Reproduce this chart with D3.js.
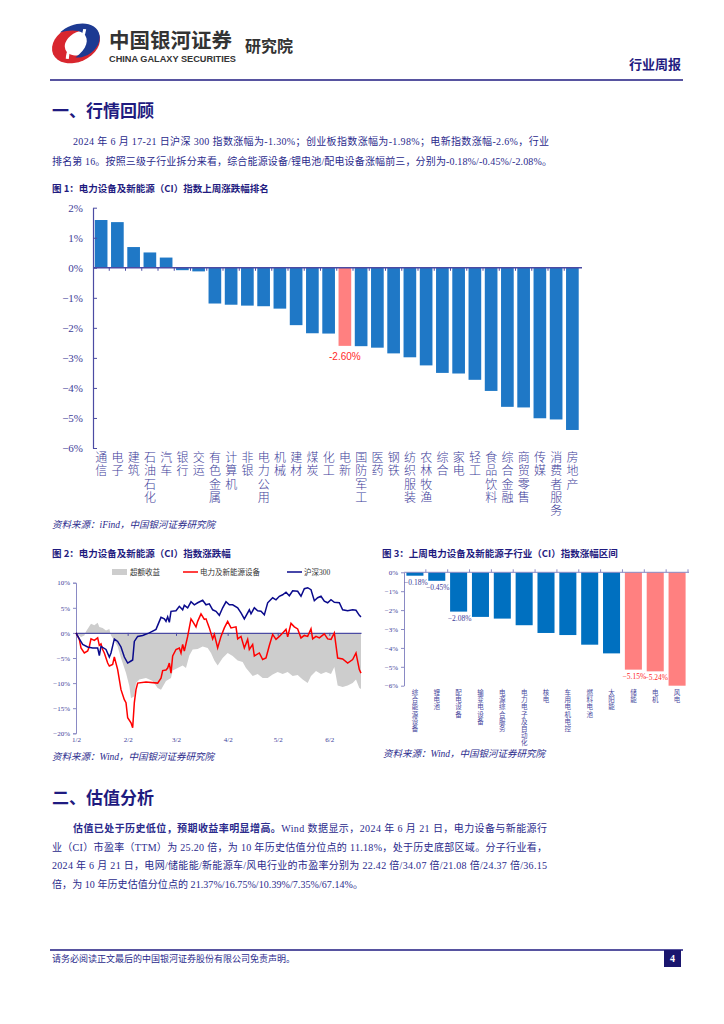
<!DOCTYPE html>
<html><head><meta charset="utf-8">
<script src="https://cdn.jsdelivr.net/npm/d3@7"></script>
<style>
body{margin:0;background:#fff}
svg{display:block}
</style>
</head><body>
<svg id="page" width="724" height="1024" font-family="Liberation Serif, Noto Sans CJK SC, serif"></svg>
<script>
// ---------------- DATA ----------------
const fig1Categories = ["通信","电子","建筑","石油石化","汽车","银行","交运","有色金属","计算机","非银","电力公用","机械","建材","煤炭","化工","电新","国防军工","医药","钢铁","纺织服装","农林牧渔","综合","家电","轻工","食品饮料","综合金融","商贸零售","传媒","消费者服务","房地产"];
const fig1Values = [1.59,1.52,0.69,0.51,0.34,-0.08,-0.12,-1.19,-1.23,-1.26,-1.28,-1.36,-1.91,-2.18,-2.19,-2.60,-2.61,-2.66,-2.85,-2.98,-3.25,-3.50,-3.52,-3.73,-4.10,-4.63,-4.65,-5.01,-5.05,-5.40];
const fig1Highlight = "电新";
const fig1Ticks = [2,1,0,-1,-2,-3,-4,-5,-6];

const fig2Legend = ["超额收益","电力及新能源设备","沪深300"];
const fig2YTicks = [10,5,0,-5,-10,-15,-20];
const fig2XTicks = ["01-02","02-02","03-02","04-02","05-02","06-02"];
const fig2XTickLabels = ["1/2","2/2","3/2","4/2","5/2","6/2"];
const hs300Series = [["01-02",0],["01-04",-1.2],["01-06",-2.3],["01-09",-2.8],["01-12",-3.0],["01-15",-3.0],["01-16",-4.5],["01-17",-2.7],["01-20",-3.3],["01-22",-4.8],["01-23",-4.0],["01-25",-1.2],["01-27",-1.7],["01-29",-2.8],["01-31",-4.8],["02-02",-6.0],["02-04",-5.6],["02-05",-5.4],["02-06",-1.7],["02-08",-0.7],["02-11",-0.5],["02-15",0],["02-19",0.7],["02-22",3.1],["02-24",2.8],["02-25",2.3],["02-26",3.2],["02-27",2.1],["02-28",4.3],["03-02",4.4],["03-04",5.3],["03-06",4.6],["03-07",5.5],["03-09",5.0],["03-11",6.2],["03-13",5.6],["03-15",6.0],["03-18",6.5],["03-20",5.6],["03-22",5.8],["03-24",4.6],["03-26",4.3],["03-28",3.5],["03-30",5.0],["04-01",6.2],["04-03",5.6],["04-05",5.6],["04-08",5.0],["04-10",4.0],["04-12",2.8],["04-15",4.6],["04-16",3.8],["04-18",5.0],["04-20",4.4],["04-22",4.3],["04-24",3.6],["04-26",6.0],["04-29",7.0],["05-01",6.6],["05-03",7.3],["05-05",7.6],["05-07",8.1],["05-09",7.4],["05-11",8.4],["05-14",8.3],["05-16",7.3],["05-18",8.8],["05-20",9.0],["05-22",8.6],["05-24",6.4],["05-26",7.0],["05-28",7.3],["05-30",6.3],["06-01",6.0],["06-03",6.6],["06-05",6.1],["06-08",6.0],["06-10",4.6],["06-13",4.4],["06-16",4.6],["06-18",4.5],["06-20",3.5],["06-21",3.2]];
const industrySeries = [["01-02",0],["01-04",-1.3],["01-05",-3.0],["01-07",-4.0],["01-09",-3.6],["01-10",-2.7],["01-11",-1.2],["01-13",-1.5],["01-15",-1.0],["01-16",-2.5],["01-17",-2.2],["01-18",-3.3],["01-19",-4.0],["01-21",-6.0],["01-22",-6.6],["01-24",-6.3],["01-25",-4.8],["01-27",-7.3],["01-28",-9.3],["01-29",-11.3],["01-31",-13.3],["02-01",-13.9],["02-02",-16.9],["02-04",-17.9],["02-05",-18.9],["02-06",-13.9],["02-07",-11.3],["02-08",-10.0],["02-13",-9.8],["02-20",-10.0],["02-22",-9.0],["02-23",-7.5],["02-25",-7.4],["02-26",-7.0],["02-27",-6.0],["02-28",-8.0],["02-29",-4.6],["03-02",-3.3],["03-04",-3.0],["03-05",-4.0],["03-06",-2.3],["03-07",-3.6],["03-09",-0.7],["03-11",2.8],["03-12",2.3],["03-14",1.2],["03-15",2.3],["03-17",3.8],["03-19",2.7],["03-20",2.8],["03-22",1.0],["03-24",-1.2],["03-25",-0.3],["03-27",-3.0],["03-29",-0.7],["03-31",1.0],["04-02",2.3],["04-04",1.0],["04-07",1.2],["04-08",-1.2],["04-10",-0.7],["04-12",-3.0],["04-14",-1.3],["04-15",-3.3],["04-17",-2.3],["04-18",-4.6],["04-21",-4.0],["04-23",-5.3],["04-25",-5.0],["04-27",-2.5],["04-29",-0.3],["05-01",-1.3],["05-03",-0.7],["05-05",0],["05-07",0.7],["05-08",-0.8],["05-10",1.9],["05-12",1.2],["05-14",0.8],["05-16",-1.0],["05-18",-0.5],["05-20",-0.7],["05-22",0.8],["05-23",-1.2],["05-25",-0.7],["05-27",-1.0],["05-30",-0.2],["06-01",-1.2],["06-03",-1.3],["06-05",0],["06-07",-5.0],["06-10",-5.2],["06-13",-6.0],["06-16",-5.3],["06-18",-4.0],["06-20",-7.3],["06-21",-8.0]];
const excessSeries = [["01-02",0],["01-05",-0.8],["01-07",-0.5],["01-08",0.3],["01-11",1.8],["01-13",1.5],["01-15",2.0],["01-16",1.2],["01-18",1.0],["01-20",0.5],["01-22",0.8],["01-23",-0.5],["01-25",-1.5],["01-27",-2.7],["01-29",-5.0],["02-01",-8.0],["02-03",-10.6],["02-04",-13.0],["02-06",-12.6],["02-07",-10.0],["02-09",-9.3],["02-13",-9.0],["02-17",-9.6],["02-20",-11.0],["02-22",-11.3],["02-25",-9.6],["02-28",-9.0],["02-29",-7.5],["03-03",-7.0],["03-06",-6.5],["03-08",-7.0],["03-10",-4.5],["03-12",-3.3],["03-15",-3.2],["03-18",-2.7],["03-21",-3.0],["03-23",-4.0],["03-25",-5.5],["03-27",-6.5],["03-30",-5.0],["04-02",-4.0],["04-05",-4.6],["04-08",-5.5],["04-11",-5.8],["04-13",-7.0],["04-15",-7.8],["04-17",-8.6],["04-20",-8.2],["04-23",-9.0],["04-26",-9.0],["04-29",-8.3],["05-02",-7.8],["05-05",-8.2],["05-08",-7.8],["05-11",-8.6],["05-14",-8.4],["05-17",-9.3],["05-20",-10.0],["05-22",-8.6],["05-25",-7.6],["05-28",-8.2],["05-31",-7.8],["06-03",-8.2],["06-05",-6.8],["06-07",-10.5],["06-10",-10.8],["06-13",-10.5],["06-16",-10.0],["06-18",-9.3],["06-20",-11.0],["06-21",-11.2]];

const fig3Categories = ["综合能源设备","锂电池","配电设备","输变电设备","电源综合服务","电力电子及自动化","核电","车用电机电控","燃料电池","太阳能","储能","电机","风电"];
const fig3Values = [-0.18,-0.45,-2.08,-2.36,-2.45,-2.80,-3.21,-3.32,-3.83,-4.29,-5.15,-5.24,-6.00];
const fig3Highlight = ["储能","电机","风电"];
const fig3Labelled = ["综合能源设备","锂电池","配电设备","储能","电机"];
const fig3Ticks = [0,-1,-2,-3,-4,-5,-6];

// ---------------- STYLE ----------------
const NAVY = "#1f1b80", TEXT = "#2a2a8c", AXIS = "#4b4ba3";
const SANS_CJK = "Noto Sans CJK SC";
const svg = d3.select("#page");
const pct = d => (d < 0 ? "−" : "") + Math.abs(d) + "%";
const parse = s => new Date(2024, +s.slice(0,2) - 1, +s.slice(3,5));

function vlabel(g, cx, top, str, size, gap, color, weight){
  return g.append("text").attr("x",cx).attr("y",top)
    .style("writing-mode","vertical-rl").style("text-orientation","upright")
    .attr("font-size",size).attr("letter-spacing",gap).attr("font-family",SANS_CJK)
    .attr("font-weight",weight||400).attr("fill",color).text(str);
}

// ---------------- HEADER ----------------
const logo = svg.append("g").attr("transform","translate(76,44) rotate(-24)");
logo.append("ellipse").attr("rx",25).attr("ry",18).attr("fill","#d8262e");
logo.append("ellipse").attr("cx",5).attr("cy",1).attr("rx",17).attr("ry",11.5).attr("fill","#fff");
logo.append("path").attr("d","M-10,-17 C8,-23 29,-13 25,2 C21,14 4,18 -6,12 C8,9 15,1 11,-7 C7,-13 -2,-16 -10,-17 Z").attr("fill","#1d3a92");
logo.append("path").attr("d","M-14,10 C-6,-6 6,4 14,-10").attr("fill","none").attr("stroke","#fff").attr("stroke-width",3);

svg.append("text").attr("x",109).attr("y",47.5).attr("font-size",20.5).attr("font-weight","bold")
  .attr("font-family",SANS_CJK).attr("fill","#333").text("中国银河证券");
svg.append("text").attr("x",109).attr("y",61.5).attr("font-size",8.5).attr("font-weight","bold")
  .attr("font-family","Liberation Sans").attr("fill","#333").attr("textLength",127).attr("lengthAdjust","spacingAndGlyphs").text("CHINA GALAXY SECURITIES");
svg.append("text").attr("x",245).attr("y",52).attr("font-size",16).attr("font-weight","bold")
  .attr("font-family",SANS_CJK).attr("fill","#333").text("研究院");
svg.append("text").attr("x",681).attr("y",69).attr("text-anchor","end").attr("font-size",13).attr("font-weight","bold")
  .attr("font-family",SANS_CJK).attr("fill",NAVY).text("行业周报");
svg.append("line").attr("x1",50).attr("x2",683).attr("y1",80).attr("y2",80).attr("stroke",NAVY).attr("stroke-width",1.6);

// ---------------- TEXT ----------------
function title(x,y,t){ svg.append("text").attr("x",x).attr("y",y).attr("font-size",17).attr("font-weight","bold")
  .attr("font-family",SANS_CJK).attr("fill",NAVY).text(t); }
function line(x,y,t,len,bold){ const el = svg.append("text").attr("x",x).attr("y",y).attr("font-size",10).attr("fill",TEXT);
  if(len) el.attr("textLength",len).attr("lengthAdjust","spacing");
  if(bold){ el.append("tspan").attr("font-weight","bold").attr("font-family",SANS_CJK).text(bold); el.append("tspan").text(t);} else el.text(t);
  return el; }
function figTitle(x,y,t){ svg.append("text").attr("x",x).attr("y",y).attr("font-size",9.5).attr("font-weight","bold")
  .attr("font-family",SANS_CJK).attr("fill",NAVY).text(t); }
function source(x,y,t){ svg.append("text").attr("x",x).attr("y",y).attr("font-size",9.5).attr("font-style","italic")
  .attr("fill",TEXT).text(t); }

title(52,117,"一、行情回顾");
line(73,145,"2024 年 6 月 17-21 日沪深 300 指数涨幅为-1.30%；创业板指数涨幅为-1.98%；电新指数涨幅-2.6%，行业",476);
line(52,165,"排名第 16。按照三级子行业拆分来看，综合能源设备/锂电池/配电设备涨幅前三，分别为-0.18%/-0.45%/-2.08%。",500);
figTitle(52,191.5,"图 1：电力设备及新能源（CI）指数上周涨跌幅排名");

title(52,804,"二、估值分析");
line(73,831.5,"Wind 数据显示，2024 年 6 月 21 日，电力设备与新能源行",474,"估值已处于历史低位，预期收益率明显增高。");
line(52,850.5,"业（CI）市盈率（TTM）为 25.20 倍，为 10 年历史估值分位点的 11.18%，处于历史底部区域。分子行业看，",495);
line(52,869,"2024 年 6 月 21 日，电网/储能能/新能源车/风电行业的市盈率分别为 22.42 倍/34.07 倍/21.08 倍/24.37 倍/36.15",495);
line(52,887.5,"倍，为 10 年历史估值分位点的 21.37%/16.75%/10.39%/7.35%/67.14%。",311);

// footer
svg.append("line").attr("x1",50).attr("x2",683).attr("y1",950).attr("y2",950).attr("stroke",NAVY).attr("stroke-width",1.6);
svg.append("text").attr("x",52).attr("y",962).attr("font-size",9).attr("fill",TEXT).text("请务必阅读正文最后的中国银河证券股份有限公司免责声明。");
svg.append("rect").attr("x",664).attr("y",950).attr("width",17).attr("height",17).attr("fill","#1a166e");
svg.append("text").attr("x",672.5).attr("y",962).attr("text-anchor","middle").attr("font-size",10).attr("font-weight","bold").attr("fill","#fff").text("4");

// ---------------- FIGURE 1 ----------------
{
  const x = d3.scaleBand().domain(fig1Categories).range([93,580.5]).paddingInner(0.22).paddingOuter(0.11);
  const y = d3.scaleLinear().domain([-6,2]).range([448,207.7]);
  const g = svg.append("g");
  g.selectAll("rect").data(fig1Categories).join("rect")
    .attr("x",c=>x(c)).attr("width",x.bandwidth())
    .attr("y",(c,i)=>y(Math.max(0,fig1Values[i]))).attr("height",(c,i)=>Math.abs(y(fig1Values[i])-y(0)))
    .attr("fill",c=>c===fig1Highlight?"#ff8080":"#1f78c6");
  const ax = g.append("g").attr("transform","translate(93,0)")
    .call(d3.axisLeft(y).tickValues(fig1Ticks).tickFormat(pct).tickSizeInner(-4).tickSizeOuter(0).tickPadding(10));
  ax.select(".domain").attr("stroke",AXIS).attr("stroke-width",1.2);
  ax.selectAll(".tick line").attr("stroke",AXIS);
  ax.selectAll(".tick text").attr("font-size",11).attr("fill","#3d3d99").attr("font-family","Liberation Serif");
  g.append("line").attr("x1",93).attr("x2",582).attr("y1",y(0)).attr("y2",y(0)).attr("stroke",AXIS).attr("stroke-width",1.4);
  g.selectAll("line.sep").data(fig1Categories.slice(1)).join("line").attr("class","sep")
    .attr("x1",c=>x(c)-x.step()*0.11).attr("x2",c=>x(c)-x.step()*0.11)
    .attr("y1",y(0)).attr("y2",y(0)+3).attr("stroke",AXIS);
  fig1Categories.forEach(c=> vlabel(g, x(c)+x.bandwidth()/2, 451.5, c, 12, 1.3, "#3d3d99", 300));
  const hi = fig1Categories.indexOf(fig1Highlight);
  g.append("text").attr("x",x(fig1Highlight)+x.bandwidth()/2).attr("y",y(fig1Values[hi])+14)
    .attr("text-anchor","middle").attr("font-size",10).attr("font-family","Liberation Sans").attr("fill","#ff2a2a")
    .text(fig1Values[hi].toFixed(2)+"%");
  source(52,528,"资料来源：iFind，中国银河证券研究院");
}

// ---------------- FIGURE 2 ----------------
{
  figTitle(52,557,"图 2：电力设备及新能源（CI）指数涨跌幅");
  const x = d3.scaleTime().domain([parse("01-02"),parse("06-21")]).range([76,361]);
  const y = d3.scaleLinear().domain([-20,10]).range([733.3,582.7]);
  const g = svg.append("g");
  const toPts = s => s.map(d=>({date:parse(d[0]),v:d[1]}));
  g.append("path").datum(toPts(excessSeries))
    .attr("d",d3.area().x(d=>x(d.date)).y0(y(0)).y1(d=>y(d.v))).attr("fill","#cdcdcd");
  const ax = g.append("g").attr("transform","translate(76,0)")
    .call(d3.axisLeft(y).tickValues(fig2YTicks).tickFormat(pct).tickSize(3).tickPadding(3));
  ax.select(".domain").attr("stroke","#8a8ac4");
  ax.selectAll(".tick line").attr("stroke","#8a8ac4");
  ax.selectAll(".tick text").attr("font-size",7).attr("fill","#3d3d99").attr("font-family","Liberation Serif");
  const zero = g.append("g").attr("transform",`translate(0,${y(0)})`)
    .call(d3.axisBottom(x).tickValues(fig2XTicks.map(parse)).tickFormat("").tickSize(3).tickSizeOuter(0));
  zero.select(".domain").attr("stroke",AXIS).attr("stroke-width",1.2);
  zero.selectAll(".tick line").attr("stroke",AXIS);
  const bx = g.append("g").attr("transform",`translate(0,${y(-20)})`)
    .call(d3.axisBottom(x).tickValues(fig2XTicks.map(parse)).tickFormat((d,i)=>fig2XTickLabels[i]).tickSize(0).tickPadding(4));
  bx.select(".domain").remove();
  bx.selectAll(".tick text").attr("font-size",7).attr("fill","#3d3d99").attr("font-family","Liberation Serif");
  const ln = d3.line().x(d=>x(d.date)).y(d=>y(d.v));
  g.append("path").datum(toPts(industrySeries)).attr("d",ln).attr("fill","none").attr("stroke","#ff0000").attr("stroke-width",1.5);
  g.append("path").datum(toPts(hs300Series)).attr("d",ln).attr("fill","none").attr("stroke","#0a0a8c").attr("stroke-width",1.5);
  const lg = g.append("g").attr("font-size",7.5).attr("fill","#333");
  lg.append("rect").attr("x",112).attr("y",569).attr("width",15).attr("height",6).attr("fill","#cdcdcd");
  lg.append("text").attr("x",130).attr("y",575).text(fig2Legend[0]);
  lg.append("line").attr("x1",183).attr("x2",198).attr("y1",572).attr("y2",572).attr("stroke","#ff0000").attr("stroke-width",1.5);
  lg.append("text").attr("x",200).attr("y",575).text(fig2Legend[1]);
  lg.append("line").attr("x1",287).attr("x2",302).attr("y1",572).attr("y2",572).attr("stroke","#0a0a8c").attr("stroke-width",1.5);
  lg.append("text").attr("x",304).attr("y",575).text(fig2Legend[2]);
  source(52,760,"资料来源：Wind，中国银河证券研究院");
}

// ---------------- FIGURE 3 ----------------
{
  figTitle(382,557,"图 3：上周电力设备及新能源子行业（CI）指数涨幅区间");
  const x = d3.scaleBand().domain(fig3Categories).range([404,688]).paddingInner(0.22).paddingOuter(0.11);
  const y = d3.scaleLinear().domain([-6,0]).range([685.7,572.3]);
  const g = svg.append("g");
  g.selectAll("rect").data(fig3Categories).join("rect")
    .attr("x",c=>x(c)).attr("width",x.bandwidth())
    .attr("y",y(0)).attr("height",(c,i)=>y(fig3Values[i])-y(0))
    .attr("fill",c=>fig3Highlight.includes(c)?"#ff8080":"#0070c0");
  const ax = g.append("g").attr("transform","translate(404,0)")
    .call(d3.axisLeft(y).tickValues(fig3Ticks).tickFormat(pct).tickSize(3).tickPadding(3).tickSizeOuter(0));
  ax.select(".domain").attr("stroke","#8a8ac4");
  ax.selectAll(".tick line").attr("stroke","#8a8ac4");
  ax.selectAll(".tick text").attr("font-size",7).attr("fill","#3d3d99").attr("font-family","Liberation Serif");
  g.append("line").attr("x1",404).attr("x2",689).attr("y1",y(0)).attr("y2",y(0)).attr("stroke","#8a8ac4");
  g.selectAll("line.sep").data(fig3Categories.slice(1).concat(["end"])).join("line").attr("class","sep")
    .attr("x1",c=>c==="end"?688:x(c)-x.step()*0.11).attr("x2",c=>c==="end"?688:x(c)-x.step()*0.11)
    .attr("y1",y(0)-3).attr("y2",y(0)).attr("stroke","#8a8ac4");
  fig3Categories.forEach((c,ci)=>{
    vlabel(g, x(c)+x.bandwidth()/2, 689.5, c, 6.5, 0.6, "#4a4aa0", 400);
    if(fig3Labelled.includes(c)){
      g.append("text").attr("x",x(c)+x.bandwidth()/2+1).attr("y",y(fig3Values[ci])+9)
        .attr("text-anchor","middle").attr("font-size",7.5).attr("font-family","Liberation Serif")
        .attr("fill",fig3Highlight.includes(c)?"#ff2a2a":"#3d3d99").text(pct(fig3Values[ci].toFixed(2)));
    }
  });
  source(383,757,"资料来源：Wind，中国银河证券研究院");
}
</script>
</body></html>
